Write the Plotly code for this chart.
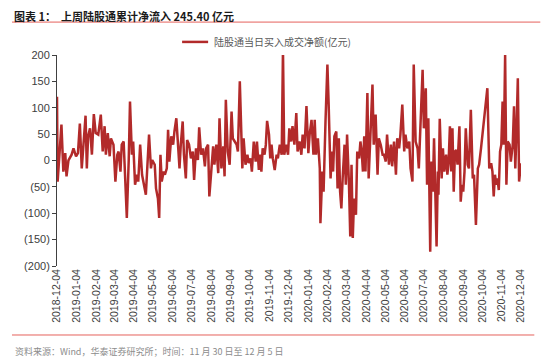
import pandas as pd
import plotly.graph_objects as go

# Data: days since 2018-12-04 and daily net buy (亿元)
day_offset = [0, 1, 7, 10, 13, 15, 18, 23, 26, 30, 33, 36, 39, 42, 45, 47, 49, 52, 55, 58,
              61, 65, 69, 72, 75, 77, 80, 83, 85, 89, 92, 95, 97, 100, 102, 105, 107, 110, 113, 115,
              118, 120, 123, 126, 128, 131, 134, 136, 140, 145, 148, 150, 154, 156, 159, 161, 163, 165, 168, 170,
              173, 175, 177, 180, 183, 185, 188, 191, 193, 195, 198, 200, 203, 205, 208, 211, 214, 216, 219, 222,
              224, 227, 230, 233, 235, 238, 240, 243, 246, 248, 251, 254, 256, 259, 262, 264, 266, 269, 272, 275,
              277, 280, 283, 285, 288, 292, 294, 297, 300, 302, 305, 307, 310, 313, 315, 318, 320, 322, 324, 327,
              329, 331, 334, 336, 338, 340, 343, 346, 348, 351, 354, 356, 358, 361, 364, 366, 369, 371, 374, 377,
              379, 382, 385, 387, 390, 393, 396, 398, 401, 404, 406, 408, 411, 414, 415, 418, 420, 423, 426, 428,
              431, 433, 435, 437, 440, 442, 444, 446, 448, 450, 453, 455, 457, 460, 462, 464, 466, 468, 471, 473,
              476, 478, 480, 482, 484, 486, 489, 491, 494, 497, 499, 502, 505, 507, 510, 513, 515, 518, 520, 523,
              526, 528, 531, 534, 536, 539, 541, 544, 547, 549, 552, 555, 557, 560, 562, 565, 568, 570, 576, 578,
              581, 583, 585, 586, 588, 590, 592, 594, 596, 598, 600, 601, 603, 605, 606, 608, 610, 613, 615, 617,
              619, 621, 623, 625, 627, 629, 631, 634, 636, 638, 640, 642, 644, 647, 649, 652, 655, 657, 660, 663,
              665, 668, 676, 678, 681, 684, 686, 688, 690, 692, 694, 696, 698, 700, 702, 704, 706, 708, 710, 713,
              715, 718, 720, 722, 724, 726, 728, 731]

net_buy = [121, -40, 68, -21, 14, -30, 0, 11, 23, 8, 14, 70, -15, 36, 85, -15, 46, 61, 11, 88,
           52, 49, 87, 17, 65, 11, 52, 8, 42, 30, -40, 11, 17, -21, 30, 36, -18, -109, 1, 112,
           11, 36, -46, -27, -40, 30, -27, -40, -65, 49, -15, 1, -8, -53, -72, -109, 11, -40, -21, -27,
           -15, 58, -2, 46, 30, 55, 80, 23, -15, 30, 74, 11, -34, 39, 30, 4, 17, -37, 23, 1,
           63, 11, 23, -11, 23, 30, -68, -21, 27, -8, 30, -24, 80, -15, 27, -30, 115, 17, -8, 93,
           42, 36, 30, 17, 150, -15, 42, -8, 11, -5, 4, -21, 36, -2, 36, -18, 11, -21, 23, 11,
           30, 75, 49, 4, 30, 4, -18, 11, 4, 30, 11, 210, 11, 30, 11, 61, 36, 65, 30, 90,
           17, 36, 11, 49, 23, 103, 14, 49, 77, 11, 77, 11, 42, -15, -119, -21, -59, 74, 182, 106,
           -34, 17, -21, 46, 55, -53, 42, -59, -91, -34, 30, -46, 49, -46, -144, -8, -147, -72, -103, 17,
           4, 36, 17, -21, 46, -21, 128, -34, 42, 144, 30, 87, -27, 42, 30, 11, 11, -2, 49, -8,
           30, -11, 36, -27, 42, 23, 49, 106, 17, 49, 23, 36, -15, -40, 182, 36, 23, -15, 172, 61,
           137, -46, 80, 11, -173, -2, -59, 42, -46, -163, -21, -65, 79, -2, -34, 23, -21, 11, -27, -2,
           65, -21, 61, -59, 17, 20, -8, 65, -78, -46, -59, -21, 61, -8, -15, 96, -34, -27, -122, -15,
           -8, 23, 118, 137, -15, -5, -21, -68, -27, -46, -34, -56, 17, 30, 112, 30, 200, -46, 36, 30,
           -2, 30, 103, -15, 61, 156, -40, -5]

start_date = "2018-12-04"
end_date = "2020-12-04"
month_ticks = pd.date_range("2018-12-01", end_date, freq="MS") + pd.Timedelta(days=3)
month_tick_text = [d.strftime("%Y-%m-%d") for d in month_ticks]
y_ticks = [-200, -150, -100, -50, 0, 50, 100, 150, 200]
y_tick_text = [f"({abs(v)})" if v < 0 else str(v) for v in y_ticks]

series_name = "陆股通当日买入成交净额(亿元)"
title_text = "<b>图表 1：  上周陆股通累计净流入 245.40 亿元</b>"
source_text = "资料来源：Wind，华泰证券研究所；时间：11 月 30 日至 12 月 5 日"

dates = pd.Timestamp(start_date) + pd.to_timedelta(day_offset, unit="D")
line_color = "#B22A2A"

fig = go.Figure()
fig.add_trace(go.Scatter(
    x=dates, y=net_buy, mode="lines", name=series_name,
    line=dict(color=line_color, width=2.5), showlegend=False,
))

# the page body has an 8px default margin, so the figure is sized 542x353 to fill the 550x361 window
fig.update_layout(
    width=542, height=353,
    margin=dict(l=49, r=29, t=47, b=95, autoexpand=False),
    paper_bgcolor="white", plot_bgcolor="white",
    font=dict(family="Liberation Sans, Arial, sans-serif", color="#404040"),
    showlegend=False,
    xaxis=dict(
        type="date", range=[start_date, end_date], automargin=False,
        tickvals=month_ticks, ticktext=month_tick_text, tickangle=-90,
        tickfont=dict(size=10.5, color="#404040"),
        showgrid=False, showline=False, zeroline=False, ticks="",
    ),
    xaxis2=dict(
        type="date", range=[start_date, end_date], overlaying="x",
        anchor="free", position=0.5, automargin=False,
        tickvals=month_ticks, showticklabels=False,
        showgrid=False, showline=True, linecolor="#7F7F7F", linewidth=1.5,
        ticks="outside", ticklen=3, tickcolor="#7F7F7F", layer="below traces",
    ),
    yaxis=dict(
        range=[-200, 200], tickvals=y_ticks, ticktext=y_tick_text, automargin=False,
        tickfont=dict(size=11, color="#404040"),
        showgrid=False, zeroline=False, showline=True, linecolor="#404040", linewidth=1,
        ticks="outside", ticklen=4, tickcolor="#404040",
    ),
)

# manual legend (line sample + label)
fig.add_shape(type="line", xref="paper", yref="paper", x0=0.2696, x1=0.3257, y0=1.062, y1=1.062,
              line=dict(color=line_color, width=2.5))
fig.add_annotation(
    text=series_name, xref="paper", yref="paper", x=0.334, y=1.062,
    xanchor="left", yanchor="middle", showarrow=False,
    font=dict(family="Noto Sans CJK SC", size=10, color="#595959"),
)
fig.add_annotation(
    text=title_text, xref="paper", yref="paper", x=-0.095, y=1.187,
    xanchor="left", yanchor="middle", showarrow=False, borderpad=0,
    font=dict(family="Noto Sans CJK SC", size=11, color="#1a1a1a"),
)
fig.add_annotation(
    text=source_text, xref="paper", yref="paper", x=-0.095, y=-0.403,
    xanchor="left", yanchor="middle", showarrow=False,
    font=dict(family="Noto Sans CJK SC", size=9, color="#8c8c8c"),
)
fig.add_shape(type="line", xref="paper", yref="paper", x0=-0.097, x1=1.0416, y0=1.156, y1=1.156,
              line=dict(color="#E5615C", width=1))
fig.add_shape(type="line", xref="paper", yref="paper", x0=-0.097, x1=1.0287, y0=-0.327, y1=-0.327,
              line=dict(color="#E5615C", width=1))

fig.write_html("out.html")
